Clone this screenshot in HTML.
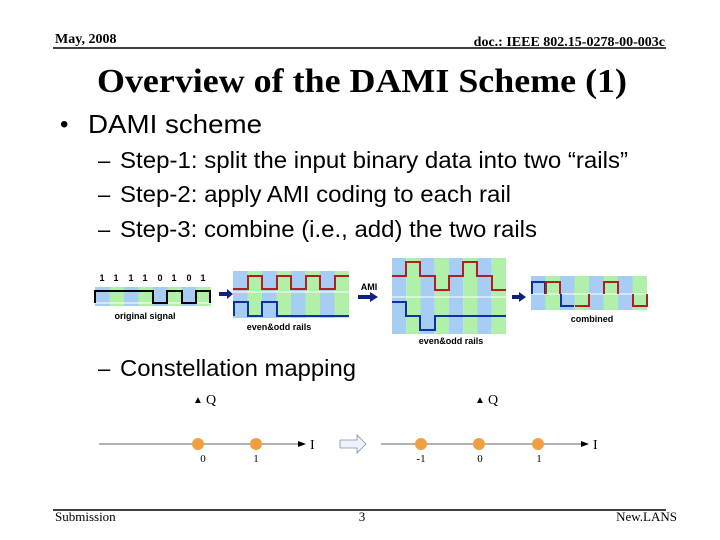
<!DOCTYPE html>
<html><head><meta charset="utf-8"><style>
html,body{margin:0;padding:0;background:#fff;}
svg{display:block;}
</style></head><body>
<svg width="720" height="540" viewBox="0 0 720 540" xmlns="http://www.w3.org/2000/svg">
<defs>
<pattern id="p1" x="95" y="0" width="29" height="10" patternUnits="userSpaceOnUse"><rect width="14.5" height="10" fill="#a8cdf5"/><rect x="14.5" width="14.5" height="10" fill="#b0f0a8"/></pattern>
<pattern id="p2" x="233" y="0" width="29" height="10" patternUnits="userSpaceOnUse"><rect width="14.5" height="10" fill="#a8cdf5"/><rect x="14.5" width="14.5" height="10" fill="#b0f0a8"/></pattern>
<pattern id="p3" x="392" y="0" width="28.5" height="10" patternUnits="userSpaceOnUse"><rect width="14.25" height="10" fill="#a8cdf5"/><rect x="14.25" width="14.25" height="10" fill="#b0f0a8"/></pattern>
<pattern id="p4" x="531" y="0" width="29" height="10" patternUnits="userSpaceOnUse"><rect width="14.5" height="10" fill="#a8cdf5"/><rect x="14.5" width="14.5" height="10" fill="#b0f0a8"/></pattern>
</defs>
<g font-family="Liberation Serif, serif" font-weight="bold">
<text x="55" y="43" font-size="14">May, 2008</text>
<text x="665" y="46" font-size="14" text-anchor="end">doc.: IEEE 802.15-0278-00-003c</text>
</g>
<line x1="53" y1="48" x2="666" y2="48" stroke="#000" stroke-width="1.5"/>
<text x="97" y="92" font-family="Liberation Serif, serif" font-weight="bold" font-size="34" textLength="530" lengthAdjust="spacingAndGlyphs">Overview of the DAMI Scheme (1)</text>
<g font-family="Liberation Sans, sans-serif" fill="#000">
<text x="60" y="132" font-size="24">•</text>
<text x="88" y="133" font-size="26" textLength="174" lengthAdjust="spacingAndGlyphs">DAMI scheme</text>
<text x="98" y="168" font-size="22">–</text>
<text x="120" y="168" font-size="23" textLength="508" lengthAdjust="spacingAndGlyphs">Step-1: split the input binary data into two “rails”</text>
<text x="98" y="202" font-size="22">–</text>
<text x="120" y="202" font-size="23" textLength="391" lengthAdjust="spacingAndGlyphs">Step-2: apply AMI coding to each rail</text>
<text x="98" y="237" font-size="22">–</text>
<text x="120" y="237" font-size="23" textLength="417" lengthAdjust="spacingAndGlyphs">Step-3: combine (i.e., add) the two rails</text>
<text x="98" y="376" font-size="22">–</text>
<text x="120" y="376" font-size="23" textLength="236" lengthAdjust="spacingAndGlyphs">Constellation mapping</text>
</g>
<g font-family="Liberation Sans, sans-serif" font-weight="bold" font-size="9" text-anchor="middle">
<text x="102" y="281">1</text><text x="116" y="281">1</text><text x="131" y="281">1</text><text x="145" y="281">1</text><text x="160" y="281">0</text><text x="174" y="281">1</text><text x="189" y="281">0</text><text x="203" y="281">1</text>
<text x="145" y="319">original signal</text>
<text x="279" y="330">even&amp;odd rails</text>
<text x="451" y="344">even&amp;odd rails</text>
<text x="592" y="322">combined</text>
<text x="369" y="290">AMI</text>
</g>
<rect x="95" y="287" width="116" height="19" fill="url(#p1)"/>
<line x1="95" y1="303" x2="211" y2="303" stroke="#fff" stroke-width="1"/>
<polyline points="95,303 95,291 153,291 153,303 167,303 167,291 182,291 182,303 196,303 196,291 210,291 210,303" fill="none" stroke="#000" stroke-width="2"/>
<path d="M219,292 h8 v-3 l6,5 l-6,5 v-3 h-8z" fill="#102080"/>
<rect x="233" y="271" width="116" height="47" fill="url(#p2)"/>
<line x1="233" y1="292" x2="349" y2="292" stroke="#fff"/>
<polyline points="233,289 248,289 248,276 262,276 262,289 277,289 277,276 291,276 291,289 306,289 306,276 320,276 320,289 335,289 335,276 349,276" fill="none" stroke="#b02020" stroke-width="2"/>
<polyline points="234,316 234,302 248,302 248,316 262,316 262,302 277,302 277,316 349,316" fill="none" stroke="#1030a0" stroke-width="2"/>
<path d="M358,295 h12 v-3 l8,5 l-8,5 v-3 h-12z" fill="#102080"/>
<rect x="392" y="258" width="114" height="76" fill="url(#p3)"/>
<line x1="392" y1="297" x2="506" y2="297" stroke="#fff"/>
<polyline points="392,276 406,276 406,262 420,262 420,276 435,276 435,290 449,290 449,276 463,276 463,262 477,262 477,276 492,276 492,290 506,290" fill="none" stroke="#b02020" stroke-width="2"/>
<polyline points="392,302 406,302 406,316 420,316 420,330 435,330 435,316 506,316" fill="none" stroke="#1030a0" stroke-width="2"/>
<path d="M512,295 h7 v-3 l7,5 l-7,5 v-3 h-7z" fill="#102080"/>
<rect x="531" y="276" width="116" height="34" fill="url(#p4)"/>
<line x1="531" y1="294" x2="647" y2="294" stroke="#fff"/>
<polyline points="532,294 532,282 545,282 545,294" fill="none" stroke="#1030a0" stroke-width="2"/>
<polyline points="546,294 546,282 560,282 560,294" fill="none" stroke="#b02020" stroke-width="2"/>
<polyline points="561,294 561,306 574,306" fill="none" stroke="#1030a0" stroke-width="2"/>
<polyline points="575,306 589,306 589,294" fill="none" stroke="#b02020" stroke-width="2"/>
<polyline points="604,294 604,282 618,282 618,294" fill="none" stroke="#b02020" stroke-width="2"/>
<polyline points="633,294 633,306 647,306 647,294" fill="none" stroke="#b02020" stroke-width="2"/>
<g font-family="Liberation Serif, serif" font-size="14">
<text x="193" y="403" font-size="10">▲</text><text x="206" y="404">Q</text>
<text x="475" y="403" font-size="10">▲</text><text x="488" y="404">Q</text>
<text x="310" y="449">I</text><text x="593" y="449">I</text>
<g font-size="11" text-anchor="middle"><text x="203" y="462">0</text><text x="256" y="462">1</text><text x="421" y="462">-1</text><text x="480" y="462">0</text><text x="539" y="462">1</text></g>
</g>
<line x1="99" y1="444" x2="300" y2="444" stroke="#666" stroke-width="1"/>
<path d="M298,441 l8,3 l-8,3z" fill="#000"/>
<line x1="381" y1="444" x2="583" y2="444" stroke="#666" stroke-width="1"/>
<path d="M581,441 l8,3 l-8,3z" fill="#000"/>
<g fill="#f0a040"><circle cx="198" cy="444" r="6"/><circle cx="256" cy="444" r="6"/><circle cx="421" cy="444" r="6"/><circle cx="479" cy="444" r="6"/><circle cx="538" cy="444" r="6"/></g>
<path d="M340,440 h17 v-5 l9,9 l-9,9 v-5 h-17z" fill="#eef2fa" stroke="#8090b0" stroke-width="0.8"/>
<line x1="53" y1="510" x2="666" y2="510" stroke="#000" stroke-width="1.5"/>
<g font-family="Liberation Serif, serif" font-size="13">
<text x="55" y="521">Submission</text>
<text x="362" y="521" text-anchor="middle">3</text>
<text x="677" y="521" text-anchor="end">New.LANS</text>
</g>
</svg>
</body></html>
